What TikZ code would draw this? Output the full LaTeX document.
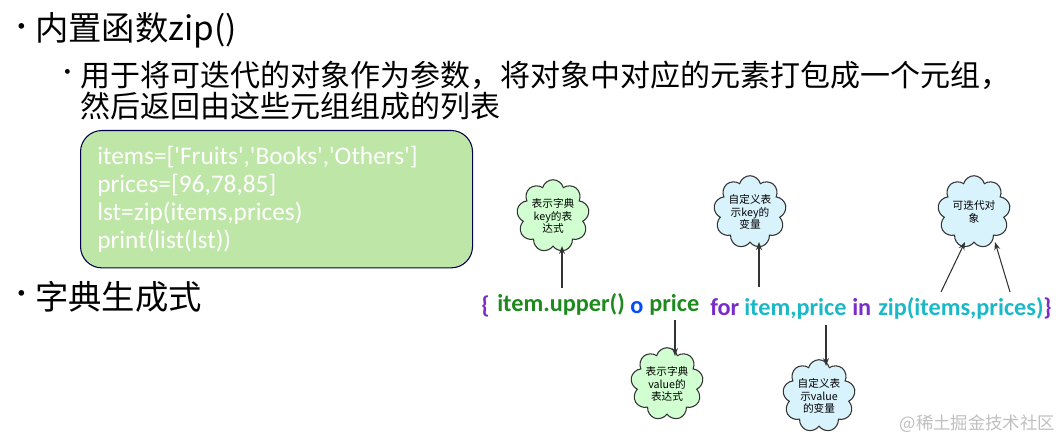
\documentclass[tikz,border=0pt]{standalone}
\usepackage{fontspec}
\setmainfont{Noto Sans CJK SC}
\newfontfamily\latinf{Carlito}
\usetikzlibrary{shapes.symbols,arrows.meta}
\definecolor{cgreen}{HTML}{1E8A1E}
\definecolor{ccyan}{HTML}{1BB8C8}
\definecolor{cpurp}{HTML}{7A2CC8}
\tikzset{x=0.75pt,y=-0.75pt,
 cloudg/.style={cloud,cloud puffs=9,draw=black!80,thick,fill=green!18,align=center,font=\fontsize{8}{9.5}\selectfont,inner sep=0pt,minimum width=50pt,minimum height=50pt},
 cloudc/.style={cloudg,fill=cyan!15},
 code/.style={font=\latinf\fontsize{18.2}{20}\selectfont\bfseries,inner sep=0pt,anchor=base west},
 arr/.style={-{Stealth[length=6pt]},thick,black!80},
 big/.style={font=\fontsize{25}{29}\selectfont,anchor=west,inner sep=0pt},
 mid/.style={font=\fontsize{22.5}{26}\selectfont,anchor=west,inner sep=0pt}}
\begin{document}
\begin{tikzpicture}
\useasboundingbox (0,0) rectangle (1061,438);
\node[big,font=\fontsize{20}{24}\selectfont] (b1) at (8,30) {•};
\node[big] (t1) at (35,30) {内置函数zip()};
\node[mid,font=\fontsize{17}{20}\selectfont] (b2) at (56,75) {•};
\node[mid] (t2) at (80,75) {用于将可迭代的对象作为参数，将对象中对应的元素打包成一个元组，};
\node[mid] (t3) at (80,106) {然后返回由这些元组组成的列表};
\node[draw=black!70!blue,thick,fill=green!45!olive!35,rounded corners=16pt,minimum width=294pt,minimum height=103pt,anchor=north west] (box) at (80,130) {};
\node[anchor=north west,align=left,font=\latinf\fontsize{19}{21}\selectfont,inner sep=0pt,text=white] (code) at (97,146) {items=[{\char39}Fruits{\char39},{\char39}Books{\char39},{\char39}Others{\char39}]\\prices=[96,78,85]\\lst=zip(items,prices)\\print(list(lst))};
\node[big,font=\fontsize{20}{24}\selectfont] (b3) at (8,297) {•};
\node[big] (t4) at (35,297) {字典生成式};
\node[code,text=cpurp] (lb) at (481,314) {\{};
\node[code,text=cgreen] (key) at (497,312) {item.upper()};
\node[code,text=blue!70!cyan] (colon) at (630,314) {o};
\node[code,text=cgreen] (val) at (649,312) {price};
\node[code,text=cpurp] (for) at (710,316) {for};
\node[code,text=ccyan] (vars) at (744,316) {item,price};
\node[code,text=cpurp] (in) at (852,316) {in};
\node[code,text=ccyan] (zip) at (878,316) {zip(items,prices)};
\node[code,text=cpurp] (rb) at (1043,316) {\}};
\node[cloudg] (c1) at (553,216) {表示字典\\key的表\\达式};
\node[cloudc] (c2) at (750,212) {自定义表\\示key的\\变量};
\node[cloudc] (c3) at (974,212) {可迭代对\\象};
\node[cloudg] (c4) at (667,384) {表示字典\\value的\\表达式};
\node[cloudc] (c5) at (819,396) {自定义表\\示value\\的变量};
\coordinate (k1) at (562,288);
\coordinate (v1) at (759,287);
\coordinate (z1) at (941,292);
\coordinate (z2) at (1010,292);
\coordinate (p1) at (675,320);
\coordinate (v2) at (826,325);
\draw[arr] (k1) -- (562,246);
\draw[arr] (v1) -- (759,242);
\draw[arr] (z1) -- (965,242);
\draw[arr] (z2) -- (995,242);
\draw[arr] (p1) -- (675,356);
\draw[arr] (v2) -- (826,366);
\node[anchor=east,text=black!25,font=\fontsize{13}{15}\selectfont,inner sep=0pt] (wm) at (1055,424) {@稀土掘金技术社区};
\end{tikzpicture}
\end{document}
